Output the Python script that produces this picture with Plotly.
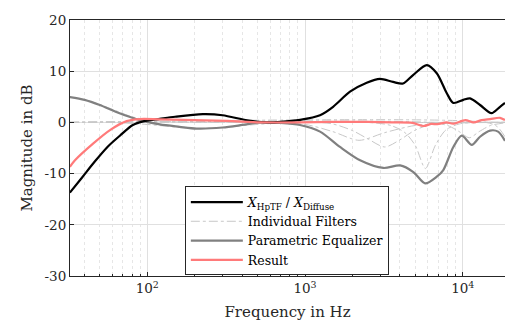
import numpy as np
import plotly.graph_objects as go

# ---------------- data ----------------
hptf_f = [32.3, 38.5, 46.6, 56.3, 67, 81, 97, 120, 150, 225, 300, 430, 570, 700, 930,
          1245, 1507, 1928, 2461, 2990, 3616, 4182, 4842, 5915, 6843, 7920, 8716,
          10085, 11127, 12870, 15200, 17230, 18530]
hptf_db = [-13.7, -10.8, -7.6, -4.7, -2.6, -0.5, 0.3, 0.7, 1.1, 1.6, 1.4, 0.4, 0.0, 0.1, 0.5,
           1.4, 3.05, 6.0, 7.75, 8.5, 7.9, 7.6, 9.25, 11.2, 9.6, 5.7, 3.8,
           4.4, 4.7, 3.4, 1.8, 3.05, 3.8]

peq_f = [32.3, 40, 50, 63, 77, 90, 120, 160, 205, 300, 400, 519, 700, 930, 1245, 1667,
         2234, 3140, 4010, 4864, 5770, 6843, 7530, 8716, 9860, 11410, 12870, 14900,
         16750, 18530]
peq_db = [4.95, 4.4, 3.4, 2.1, 1.1, 0.45, -0.4, -0.86, -1.2, -1.0, -0.5, 0.0, -0.1, -0.5,
          -1.8, -4.8, -7.4, -8.9, -8.4, -9.7, -11.9, -10.6, -9.3, -4.8, -2.6, -4.4, -2.8,
          -1.6, -1.8, -3.6]

res_f = [32.3, 34.8, 45.5, 58, 74, 90, 120, 318, 520, 930, 1500, 2500, 3600, 4800, 5620,
         6330, 6900, 7900, 8700, 10400, 11700, 13190, 14900, 17230, 18530]
res_db = [-8.7, -7.4, -4.1, -1.5, 0.25, 0.65, 0.6, 0.3, 0.0, 0.0, 0.1, 0.1, 0.0, -0.1, -0.7,
          -0.3, -0.35, 0.0, -0.25, 0.45, 0.0, 0.45, 0.65, 0.9, 0.45]

# individual filters (low shelf + peaking filters)
filt_lowshelf_f = [32.3, 40, 50, 63, 80, 100, 150, 300, 18530]
filt_lowshelf_db = [4.95, 4.4, 3.5, 2.3, 1.1, 0.5, 0.1, 0.0, 0.0]
filt_p1_f = [32.3, 60, 100, 150, 210, 300, 450, 700, 1000, 18530]
filt_p1_db = [0.0, 0.0, -0.4, -0.9, -1.2, -1.0, -0.5, -0.1, 0.0, 0.0]
filt_p2_f = [32.3, 500, 1000, 1500, 2200, 3200, 5000, 10000, 18530]
filt_p2_db = [0.0, 0.0, -0.4, -1.8, -3.5, -2.0, -0.6, -0.1, 0.0]
filt_p3_f = [32.3, 1200, 1500, 2000, 2500, 3200, 4000, 5000, 6500, 10000, 18530]
filt_p3_db = [0.0, 0.0, -0.3, -1.6, -3.2, -4.8, -3.4, -1.5, -0.3, 0.0, 0.0]
filt_p4_f = [32.3, 2500, 3500, 4300, 5000, 5800, 6700, 7800, 9500, 13000, 18530]
filt_p4_db = [0.0, 0.0, -0.6, -2.0, -4.5, -9.0, -4.5, -1.5, -0.3, 0.0, 0.0]
filt_p5_f = [32.3, 6000, 8000, 9500, 11000, 12700, 15000, 18530]
filt_p5_db = [0.0, 0.0, -0.6, -1.8, -3.0, -1.8, -0.6, -0.1]
filt_p6_f = [32.3, 14000, 16500, 18530]
filt_p6_db = [0.0, 0.0, -0.8, -2.8]

filters = [(filt_lowshelf_f, filt_lowshelf_db), (filt_p1_f, filt_p1_db),
           (filt_p2_f, filt_p2_db), (filt_p3_f, filt_p3_db), (filt_p4_f, filt_p4_db),
           (filt_p5_f, filt_p5_db), (filt_p6_f, filt_p6_db)]

y_ticks = [-30, -20, -10, 0, 10, 20]
y_ticktext = ["-30", "-20", "-10", "0", "10", "20"]
x_ticks = [100, 1000, 10000]
x_ticktext = ["10<sup>2</sup>", "10<sup>3</sup>", "10<sup>4</sup>"]
x_minor = [m * 10 ** e for e in range(1, 5) for m in range(2, 10)]

# ---------------- figure ----------------
FONT = "DejaVu Serif"
AX = "#262626"
fig = go.Figure()

for i, (f, d) in enumerate(filters):
    fig.add_trace(go.Scatter(
        x=f, y=d, mode="lines", line=dict(color="#c8c8c8", width=1, dash="dashdot",
                                          shape="spline", smoothing=0.8),
        name="Individual Filters", legendgroup="filt", showlegend=(i == 0), legendrank=2))

fig.add_trace(go.Scatter(x=peq_f, y=peq_db, mode="lines", name="Parametric Equalizer",
                         line=dict(color="#808080", width=2.2, shape="spline", smoothing=0.8),
                         legendrank=3))
fig.add_trace(go.Scatter(x=hptf_f, y=hptf_db, mode="lines",
                         name="<i>X</i><sub>HpTF</sub> / <i>X</i><sub>Diffuse</sub>",
                         line=dict(color="#000000", width=2.2, shape="spline", smoothing=0.8),
                         legendrank=1))
fig.add_trace(go.Scatter(x=res_f, y=res_db, mode="lines", name="Result",
                         line=dict(color="#ff7a7a", width=2.2, shape="spline", smoothing=0.8),
                         legendrank=4))

fig.update_layout(
    width=505, height=325,
    margin=dict(l=70, r=0, t=20, b=49),
    paper_bgcolor="white", plot_bgcolor="white",
    font=dict(family=FONT, color=AX, size=13),
    showlegend=True,
    legend=dict(x=0.264, y=0.35, xanchor="left", yanchor="top",
                bgcolor="white", bordercolor=AX, borderwidth=1,
                font=dict(family=FONT, size=12.5, color="#000000"),
                tracegroupgap=0, itemwidth=52),
)
fig.update_xaxes(
    type="log", range=[np.log10(32.36), np.log10(18530)],
    tickmode="array", tickvals=x_ticks, ticktext=x_ticktext,
    ticks="inside", ticklen=4, tickcolor=AX,
    showline=True, linecolor=AX, linewidth=1, mirror=True,
    showgrid=True, gridcolor="#e0e0e0", gridwidth=1,
    minor=dict(tickmode="array", tickvals=x_minor, ticks="inside", ticklen=2,
               tickcolor=AX, showgrid=True, gridcolor="#e6e6e6", griddash="dot", gridwidth=1),
    tickfont=dict(family=FONT, size=13.5, color=AX),
    title=dict(text="Frequency in Hz", font=dict(family=FONT, size=15, color=AX), standoff=11),
    zeroline=False,
)
fig.update_yaxes(
    range=[-30, 20], tickmode="array", tickvals=y_ticks, ticktext=y_ticktext,
    ticks="inside", ticklen=4, tickcolor=AX,
    showline=True, linecolor=AX, linewidth=1, mirror=False,
    showgrid=True, gridcolor="#e0e0e0", gridwidth=1, zeroline=False,
    tickfont=dict(family=FONT, size=13.5, color=AX),
    title=dict(text="Magnitude in dB", font=dict(family=FONT, size=15, color=AX), standoff=8),
)

fig.write_html("out.html")
